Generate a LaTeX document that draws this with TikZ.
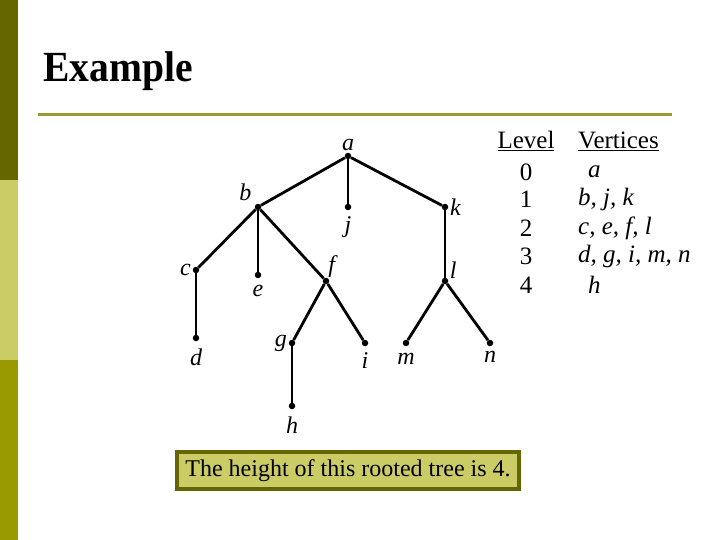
\documentclass[tikz,border=0pt]{standalone}
\usepackage{fontspec}
\setmainfont{Liberation Serif}
\usepackage{xcolor}
\definecolor{olivedark}{HTML}{666600}
\definecolor{olivelight}{HTML}{CCCC66}
\definecolor{olivemid}{HTML}{999900}
\definecolor{oliverule}{HTML}{999933}
\tikzset{
  vtx/.style={circle, fill=black, inner sep=0pt, minimum size=6.5pt},
  vname/.style={font=\fontsize{24}{24}\selectfont\itshape, inner sep=1.5pt},
  edge/.style={black, line width=2.8pt},
  tabtext/.style={font=\fontsize{25}{25}\selectfont, inner sep=0pt}
}
\begin{document}
\begin{tikzpicture}[x=1pt, y=-1pt, every label/.style={vname}]
\useasboundingbox (0,0) rectangle (720,540);
\fill[white] (0,0) rectangle (720,540);
\fill[olivedark] (0,0) rectangle (18,180);
\fill[olivelight] (0,180) rectangle (18,360);
\fill[olivemid] (0,360) rectangle (18,540);
\node[anchor=base west, inner sep=0pt, font=\fontsize{43}{43}\selectfont\bfseries] (title) at (43,82) {\scalebox{0.92}[1]{Example}};
\draw[oliverule, line width=3.5pt] (38,114.5) -- (672,114.5);
\node[vtx, label=above:a] (a) at (348,156) {};
\node[vtx, label={[label distance=3pt]140:b}] (b) at (258,207) {};
\node[vtx, label={[label distance=4pt]below:j}] (j) at (348,207) {};
\node[vtx, label=right:k] (k) at (445,207) {};
\node[vtx, label=left:c] (c) at (196,270) {};
\node[vtx, label={[label distance=5pt]below:e}] (e) at (258,275) {};
\node[vtx, label={[label distance=-2pt]60:f}] (f) at (326,281) {};
\node[vtx, label=20:l] (l) at (445,281) {};
\node[vtx, label={[label distance=6pt]below:d}] (d) at (196,338) {};
\node[vtx, label=left:g] (g) at (292,343) {};
\node[vtx, label={[label distance=4pt]below:i}] (i) at (365,343) {};
\node[vtx, label={[label distance=5pt]below:m}] (m) at (406,343) {};
\node[vtx, label={[label distance=3pt]below:n}] (n) at (490,343) {};
\node[vtx, label={[label distance=6pt]below:h}] (h) at (292,406) {};
\draw[edge] (a) -- (b);
\draw[edge] (a) -- (j);
\draw[edge] (a) -- (k);
\draw[edge] (b) -- (c);
\draw[edge] (b) -- (e);
\draw[edge] (b) -- (f);
\draw[edge] (k) -- (l);
\draw[edge] (c) -- (d);
\draw[edge] (f) -- (g);
\draw[edge] (f) -- (i);
\draw[edge] (l) -- (m);
\draw[edge] (l) -- (n);
\draw[edge] (g) -- (h);
\node[tabtext] (levhead) at (526,141) {\underline{Level}};
\node[tabtext, anchor=west] (verhead) at (578,141) {\underline{Vertices}};
\node[tabtext] (lev0) at (526,172) {0};
\node[tabtext] (lev1) at (526,199) {1};
\node[tabtext] (lev2) at (526,228) {2};
\node[tabtext] (lev3) at (526,256) {3};
\node[tabtext] (lev4) at (526,285) {4};
\node[tabtext, anchor=west] (ver0) at (588,172) {\itshape a};
\node[tabtext, anchor=west] (ver1) at (578,199) {\itshape b, j, k};
\node[tabtext, anchor=west] (ver2) at (578,228) {\itshape c, e, f, l};
\node[tabtext, anchor=west] (ver3) at (578,256) {\itshape d, g, i, m, n};
\node[tabtext, anchor=west] (ver4) at (588,285) {\itshape h};
\node[draw=olivedark, fill=olivelight, line width=4pt, minimum width=342pt, minimum height=37pt, inner sep=0pt, font=\fontsize{24}{24}\selectfont] (note) at (348,470.5) {The height of this rooted tree is 4.};
\end{tikzpicture}
\end{document}
